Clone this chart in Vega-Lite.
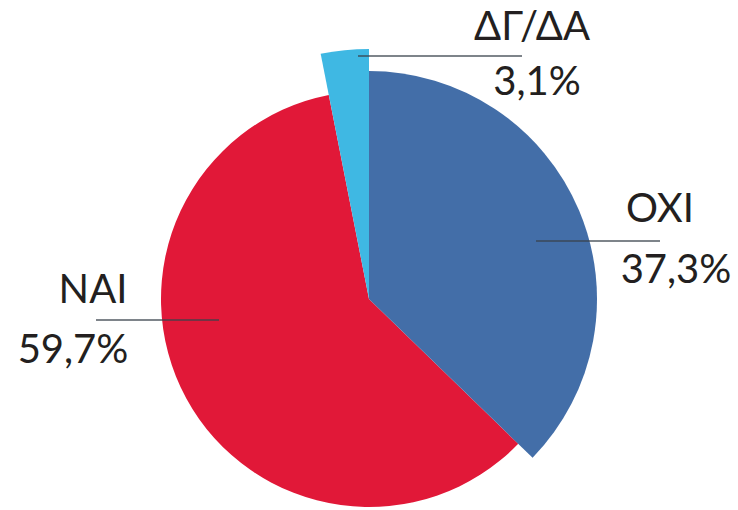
{
  "$schema": "https://vega.github.io/schema/vega-lite/v6.json",
  "width": 738,
  "height": 510,
  "autosize": {"type": "fit", "contains": "padding"},
  "padding": 0,
  "background": "white",
  "config": {"view": {"stroke": null}},
  "datasets": {
    "slices": [
      {"label": "ΟΧΙ", "value": 37.3, "ord": 1},
      {"label": "ΝΑΙ", "value": 59.7, "ord": 2},
      {"label": "ΔΓ/ΔΑ", "value": 3.1, "ord": 3}
    ],
    "labels": [
      {"text": "ΔΓ/ΔΑ", "x": 163, "y": 259},
      {"text": "3,1%", "x": 168, "y": 204},
      {"text": "ΟΧΙ", "x": 291, "y": 77},
      {"text": "37,3%", "x": 307, "y": 16},
      {"text": "ΝΑΙ", "x": -276, "y": -4},
      {"text": "59,7%", "x": -296, "y": -64}
    ],
    "leaders": [
      {"label": "ΔΓ/ΔΑ", "x": -11, "x2": 153, "y": 243},
      {"label": "ΟΧΙ", "x": 167, "x2": 291, "y": 58},
      {"label": "ΝΑΙ", "x": -273, "x2": -150, "y": -21}
    ]
  },
  "layer": [
    {
      "data": {"name": "slices"},
      "transform": [
        {"stack": "value", "groupby": [], "sort": [{"field": "ord", "order": "ascending"}], "as": ["t0", "t1"]},
        {"filter": "datum.label === 'ΝΑΙ'"}
      ],
      "mark": {"type": "arc", "radius": 208},
      "encoding": {
        "x": {"datum": 0, "type": "quantitative", "scale": {"domain": [-369, 369], "nice": false, "zero": false}, "axis": null},
        "y": {"datum": 0, "type": "quantitative", "scale": {"domain": [-211, 299], "nice": false, "zero": false}, "axis": null},
        "theta": {"field": "t0", "type": "quantitative", "scale": {"domain": [0, 100.1]}},
        "theta2": {"field": "t1"},
        "color": {"field": "label", "type": "nominal", "scale": {"domain": ["ΟΧΙ", "ΝΑΙ", "ΔΓ/ΔΑ"], "range": ["#436EA8", "#E11838", "#3FB8E3"]}, "legend": null}
      }
    },
    {
      "data": {"name": "slices"},
      "transform": [
        {"stack": "value", "groupby": [], "sort": [{"field": "ord", "order": "ascending"}], "as": ["t0", "t1"]},
        {"filter": "datum.label === 'ΔΓ/ΔΑ'"}
      ],
      "mark": {"type": "arc", "radius": 250},
      "encoding": {
        "x": {"datum": 0, "type": "quantitative"},
        "y": {"datum": 0, "type": "quantitative"},
        "theta": {"field": "t0", "type": "quantitative"},
        "theta2": {"field": "t1"},
        "color": {"field": "label", "type": "nominal", "legend": null}
      }
    },
    {
      "data": {"name": "slices"},
      "transform": [
        {"stack": "value", "groupby": [], "sort": [{"field": "ord", "order": "ascending"}], "as": ["t0", "t1"]},
        {"filter": "datum.label === 'ΟΧΙ'"}
      ],
      "mark": {"type": "arc", "radius": 228},
      "encoding": {
        "x": {"datum": 0, "type": "quantitative"},
        "y": {"datum": 0, "type": "quantitative"},
        "theta": {"field": "t0", "type": "quantitative"},
        "theta2": {"field": "t1"},
        "color": {"field": "label", "type": "nominal", "legend": null}
      }
    },
    {
      "data": {"name": "leaders"},
      "mark": {"type": "rule", "color": "#39424c", "opacity": 0.65, "strokeWidth": 2},
      "encoding": {
        "x": {"field": "x", "type": "quantitative"},
        "x2": {"field": "x2"},
        "y": {"field": "y", "type": "quantitative"}
      }
    },
    {
      "data": {"name": "labels"},
      "mark": {"type": "text", "font": "Lato", "fontSize": 40, "color": "#231f20", "align": "center", "baseline": "alphabetic"},
      "encoding": {
        "x": {"field": "x", "type": "quantitative"},
        "y": {"field": "y", "type": "quantitative"},
        "text": {"field": "text", "type": "nominal"}
      }
    }
  ]
}
